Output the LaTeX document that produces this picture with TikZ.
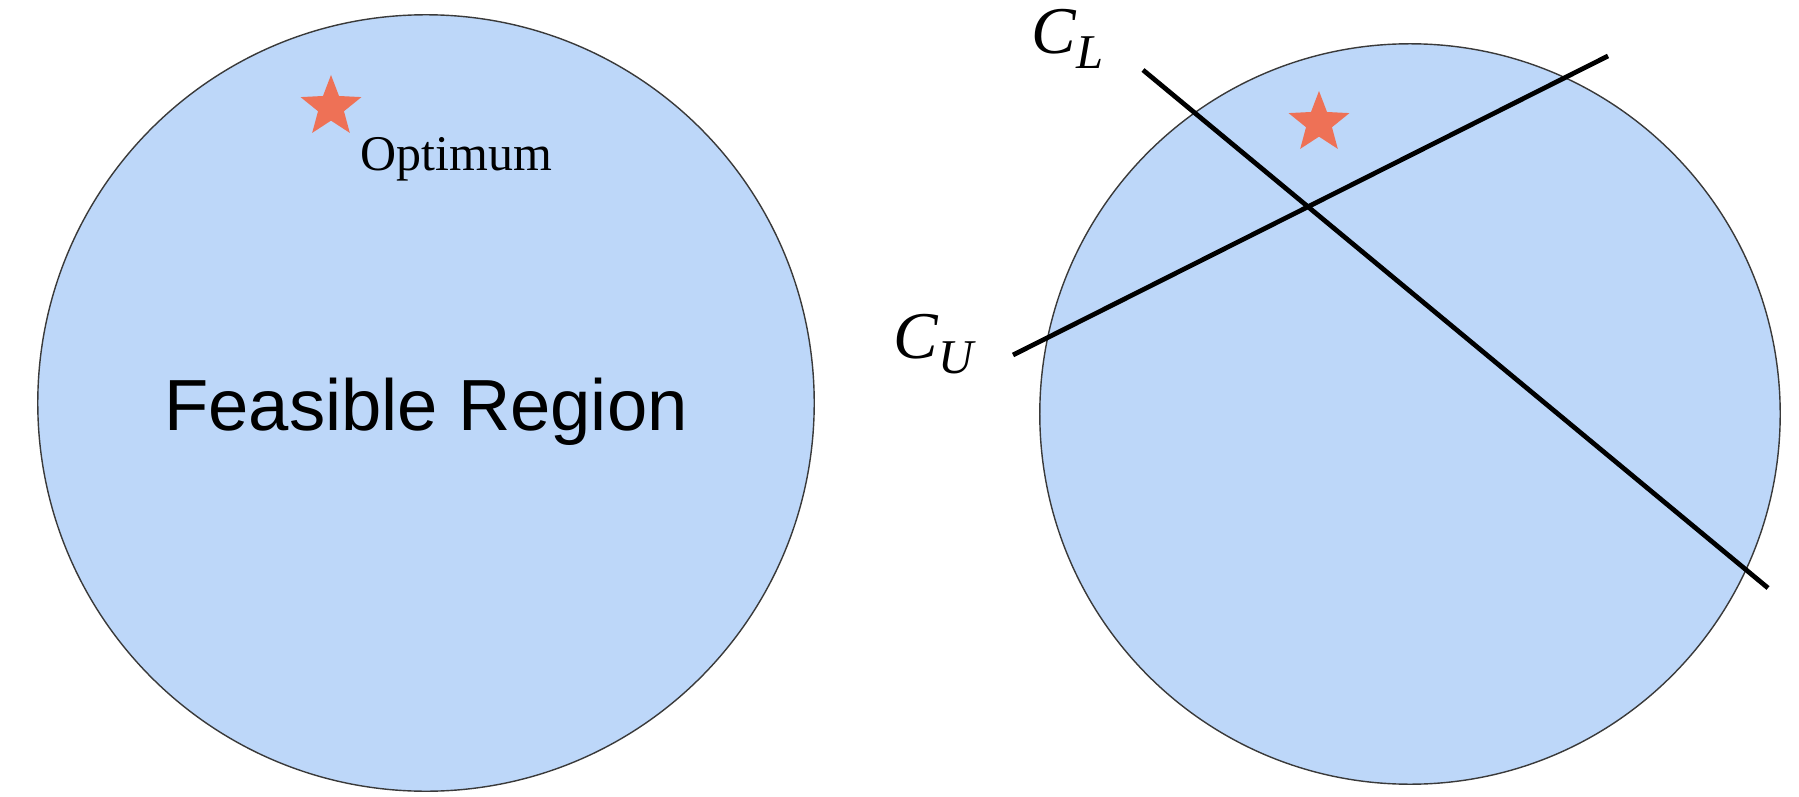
\documentclass[tikz,border=0pt]{standalone}
\usepackage{fontspec}
\setmainfont{Liberation Serif}
\newfontfamily\regionfont{Liberation Sans}
\usepackage{tikz}
\usepackage{xcolor}
\usetikzlibrary{shapes.geometric,positioning}
\definecolor{regionblue}{HTML}{BDD7F9}
\definecolor{rim}{HTML}{3A3A3A}
\definecolor{staredge}{HTML}{EE7156}
\tikzset{
  region/.style={draw=rim,fill=regionblue,line width=0.4pt,circle,inner sep=0pt},
  optstar/.style={star,star points=5,star point ratio=2.35,fill=staredge,
                  draw=none,minimum size=0.64cm,inner sep=0pt},
  cutline/.style={line width=1.35pt,color=black},
  cutlabel/.style={inner sep=0pt,anchor=base west,font=\fontsize{19}{20}\selectfont\itshape}
}
\newcommand{\cutname}[2]{#1\raisebox{-4.3pt}{\fontsize{13.8}{14}\selectfont\itshape #2}}

\begin{document}
\begin{tikzpicture}[x=0.01cm,y=0.01cm]
  \useasboundingbox (0,0) rectangle (1799,796);
  % left picture
  \node[region,minimum size=7.76cm] (feas) at (426,393) {};
  \node[inner sep=0pt,anchor=base,font=\regionfont\fontsize{20.6}{22}\selectfont] (feaslbl)
    at (426,366) {Feasible Region};
  \node[optstar] (opt) at (331,689) {};
  \node[inner sep=0pt,anchor=base west,font=\fontsize{14.2}{16}\selectfont] (optlbl)
    at (360,626) {Optimum};
  % right picture
  \node[region,minimum size=7.40cm] (cut) at (1410,382) {};
  \node[optstar] (opt2) at (1319,673) {};
  \coordinate (cl1) at (1143,726);
  \coordinate (cl2) at (1768,208);
  \coordinate (cu1) at (1013,441);
  \coordinate (cu2) at (1608,740);
  \draw[cutline] (cl1) -- (cl2);
  \draw[cutline] (cu1) -- (cu2);
  \node[cutlabel] (cllbl) at (1031,743) {\cutname{C}{L}};
  \node[cutlabel] (culbl) at (893,438) {\cutname{C}{U}};
\end{tikzpicture}
\end{document}
